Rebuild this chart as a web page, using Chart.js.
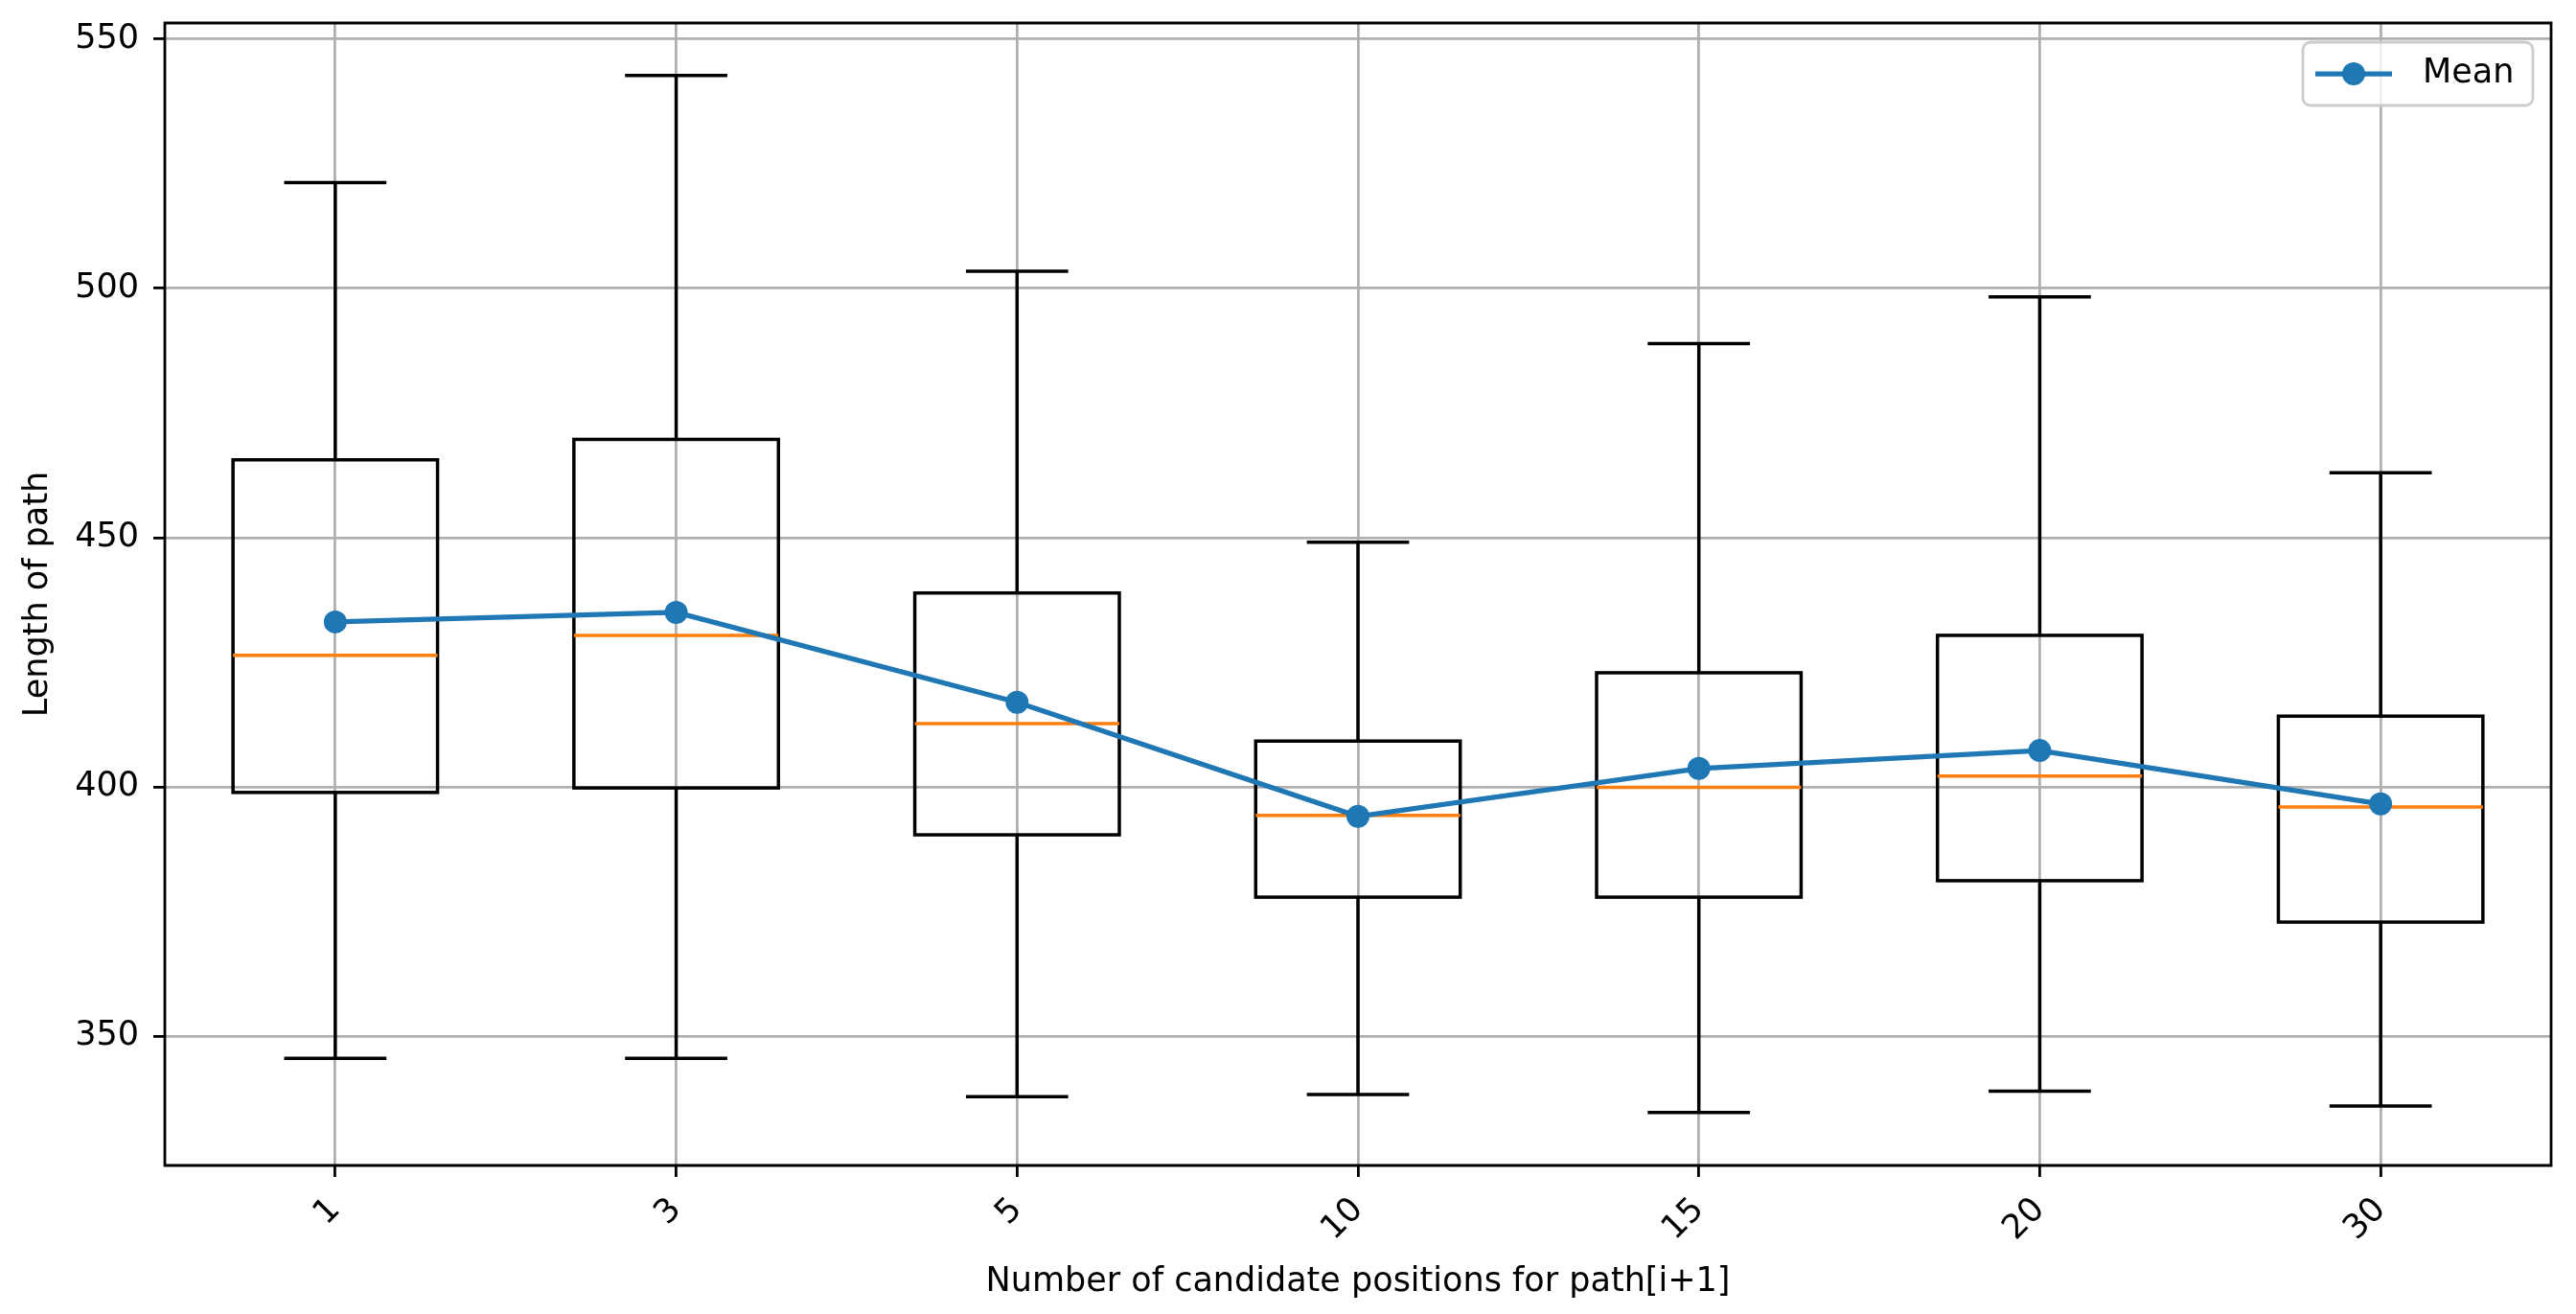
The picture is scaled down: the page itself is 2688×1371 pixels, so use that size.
<!DOCTYPE html>
<html>
<head>
<meta charset="utf-8">
<title>Length of path vs candidate positions</title>
<script src="https://cdn.jsdelivr.net/npm/chart.js@4.4.1/dist/chart.umd.min.js"></script>
<style>
  html, body { margin: 0; padding: 0; background: #fff; overflow: hidden; }
  #chartWrap { width: 2688px; height: 1371px; }
  #boxChart { display: block; }
</style>
</head>
<body>
<div id="chartWrap"><canvas id="boxChart" width="2688" height="1371"></canvas></div>
<script>
// ==================== DATA ====================
// Values
const categories   = ['1', '3', '5', '10', '15', '20', '30'];
const whiskerLow   = [345.6, 345.6, 337.9, 338.3, 334.7, 339.0, 336.0];
const quartile1    = [398.9, 399.8, 390.4, 377.9, 377.9, 381.2, 372.9];
const medians      = [426.4, 430.4, 412.7, 394.3, 399.9, 402.2, 396.0];
const quartile3    = [465.6, 469.7, 438.9, 409.2, 422.9, 430.4, 414.2];
const whiskerHigh  = [521.2, 542.7, 503.4, 449.1, 488.9, 498.3, 463.0];
const means        = [433.1, 435.0, 417.0, 394.1, 403.7, 407.3, 396.6];

const yTickValues  = [350, 400, 450, 500, 550];
const Y_MIN = 324.1;
const Y_MAX = 553.2;

// ==================== STYLE ====================
const FONT_SIZE    = 35;
const BLUE         = '#1f77b4';
const ORANGE       = '#ff7f0e';
const BOX_WIDTH    = 0.6;   // in category units
const CAP_WIDTH    = 0.3;
const LINE_W       = 3.5;
const SPINE_W      = 2.8;

Chart.defaults.font.family = '"DejaVu Sans", sans-serif';
Chart.defaults.font.size   = FONT_SIZE;
Chart.defaults.color       = '#000';

// ==================== BOX PLOT PLUGIN ====================
const boxPlotPlugin = {
  id: 'boxPlot',
  beforeDatasetsDraw(chart) {
    const { ctx, scales: { x, y } } = chart;
    const step    = x.getPixelForValue(1) - x.getPixelForValue(0);
    const halfBox = step * BOX_WIDTH / 2;
    const halfCap = step * CAP_WIDTH / 2;

    ctx.save();
    categories.forEach((c, i) => {
      const xc   = x.getPixelForValue(i);
      const yLo  = y.getPixelForValue(whiskerLow[i]);
      const yQ1  = y.getPixelForValue(quartile1[i]);
      const yMed = y.getPixelForValue(medians[i]);
      const yQ3  = y.getPixelForValue(quartile3[i]);
      const yHi  = y.getPixelForValue(whiskerHigh[i]);

      ctx.strokeStyle = '#000';
      ctx.lineWidth = LINE_W;
      ctx.beginPath();
      // whiskers
      ctx.moveTo(xc, yQ1); ctx.lineTo(xc, yLo);
      ctx.moveTo(xc, yQ3); ctx.lineTo(xc, yHi);
      // caps
      ctx.moveTo(xc - halfCap, yLo); ctx.lineTo(xc + halfCap, yLo);
      ctx.moveTo(xc - halfCap, yHi); ctx.lineTo(xc + halfCap, yHi);
      ctx.stroke();

      // box
      ctx.strokeRect(xc - halfBox, yQ3, halfBox * 2, yQ1 - yQ3);

      // median
      ctx.strokeStyle = ORANGE;
      ctx.beginPath();
      ctx.moveTo(xc - halfBox, yMed); ctx.lineTo(xc + halfBox, yMed);
      ctx.stroke();
    });
    ctx.restore();
  }
};

// ==================== FRAME + LEGEND PLUGIN ====================
const frameLegendPlugin = {
  id: 'frameLegend',
  afterDraw(chart) {
    const { ctx, chartArea: a } = chart;
    ctx.save();

    // frame (all four spines)
    ctx.strokeStyle = '#000';
    ctx.lineWidth = SPINE_W;
    ctx.beginPath();
    ctx.moveTo(a.left, a.top);
    ctx.lineTo(a.right, a.top);
    ctx.lineTo(a.right, a.bottom);
    ctx.lineTo(a.left, a.bottom);
    ctx.closePath();
    ctx.stroke();

    // legend box, top right inside the axes
    const w = 240, h = 66;
    const lx = a.right - 19 - w;
    const ly = a.top + 20;
    ctx.beginPath();
    ctx.roundRect(lx, ly, w, h, 8);
    ctx.fillStyle = 'rgba(255,255,255,0.8)';
    ctx.fill();
    ctx.strokeStyle = '#cccccc';
    ctx.lineWidth = SPINE_W;
    ctx.stroke();

    const cy = ly + h / 2;
    ctx.strokeStyle = BLUE;
    ctx.lineWidth = 5.25;
    ctx.beginPath();
    ctx.moveTo(lx + 13, cy); ctx.lineTo(lx + 93, cy);
    ctx.stroke();
    ctx.fillStyle = BLUE;
    ctx.beginPath();
    ctx.arc(lx + 53, cy, 12, 0, Math.PI * 2);
    ctx.fill();

    ctx.fillStyle = '#000';
    ctx.font = FONT_SIZE + 'px "DejaVu Sans", sans-serif';
    ctx.textBaseline = 'middle';
    ctx.textAlign = 'left';
    ctx.fillText('Mean', lx + 125, cy);
    ctx.restore();
  }
};

// ==================== CHART ====================
const ctx = document.getElementById('boxChart');

new Chart(ctx, {
  type: 'line',
  data: {
    labels: categories,
    datasets: [{
      label: 'Mean',
      data: means,
      borderColor: BLUE,
      backgroundColor: BLUE,
      borderWidth: 5.25,
      pointRadius: 12,
      pointHoverRadius: 12,
      pointBorderWidth: 0,
      tension: 0
    }]
  },
  options: {
    responsive: false,
    devicePixelRatio: 1,
    animation: false,
    events: [],
    layout: { padding: { left: 0, top: 24, right: 26, bottom: 0 } },
    plugins: {
      legend: { display: false },
      tooltip: { enabled: false }
    },
    scales: {
      x: {
        type: 'category',
        offset: true,
        border: { display: false },
        grid: {
          offset: false,
          color: '#b0b0b0',
          lineWidth: SPINE_W,
          tickColor: '#000',
          tickWidth: SPINE_W,
          tickLength: 12
        },
        ticks: { maxRotation: 45, minRotation: 45, padding: 14, autoSkip: false },
        title: {
          display: true,
          text: 'Number of candidate positions for path[i+1]',
          padding: { top: 0, bottom: 12 }
        },
        afterFit: (axis) => {
          axis.height = 155;
          axis.paddingLeft = 0;
          axis.paddingRight = 0;
        }
      },
      y: {
        type: 'linear',
        min: Y_MIN,
        max: Y_MAX,
        border: { display: false },
        grid: {
          color: '#b0b0b0',
          lineWidth: SPINE_W,
          tickColor: '#000',
          tickWidth: SPINE_W,
          tickLength: 12
        },
        ticks: { padding: 15 },
        afterBuildTicks: (axis) => { axis.ticks = yTickValues.map(v => ({ value: v })); },
        title: {
          display: true,
          text: 'Length of path',
          padding: { top: 19, bottom: 0 }
        },
        afterFit: (axis) => {
          axis.width = 172;
          axis.paddingTop = 0;
          axis.paddingBottom = 0;
        }
      }
    }
  },
  plugins: [boxPlotPlugin, frameLegendPlugin]
});
</script>
</body>
</html>
